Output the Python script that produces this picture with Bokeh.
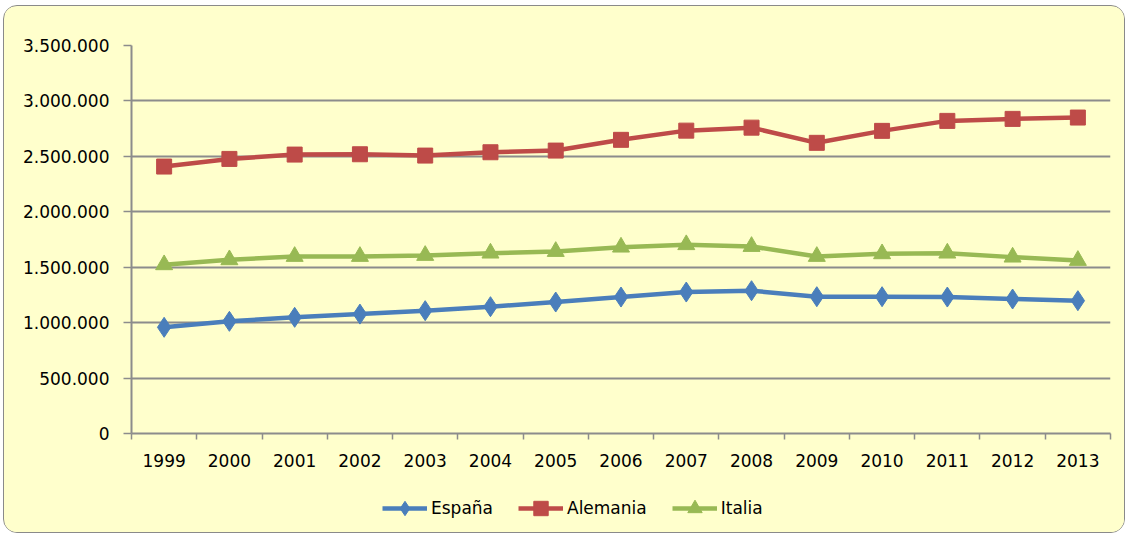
from bokeh.plotting import figure
from bokeh.layouts import column
from bokeh.models import FixedTicker, Legend, LegendItem, ColumnDataSource, Range1d
from bokeh.embed import file_html
from bokeh.resources import INLINE

years = ["1999", "2000", "2001", "2002", "2003", "2004", "2005", "2006",
         "2007", "2008", "2009", "2010", "2011", "2012", "2013"]
espana = [958000, 1012000, 1048000, 1077000, 1108000, 1144000, 1186000, 1231000,
          1276000, 1288000, 1234000, 1234000, 1231000, 1213000, 1198000]
alemania = [2408000, 2477000, 2516000, 2519000, 2507000, 2537000, 2552000, 2649000,
            2732000, 2759000, 2622000, 2730000, 2820000, 2838000, 2850000]
italia = [1522000, 1567000, 1597000, 1597000, 1606000, 1627000, 1642000, 1681000,
          1703000, 1687000, 1597000, 1621000, 1627000, 1591000, 1561000]
series_names = ["España", "Alemania", "Italia"]
y_ticks = [0, 500000, 1000000, 1500000, 2000000, 2500000, 3000000, 3500000]
y_labels = ["0", "500.000", "1.000.000", "1.500.000", "2.000.000", "2.500.000",
            "3.000.000", "3.500.000"]

BG = "#FFFFCC"
GRID = "#8C8C8C"
FONT = "DejaVu Sans"
C_ES, C_AL, C_IT = "#4A7EBB", "#BE4B48", "#98B954"

xs = list(range(len(years)))
src = ColumnDataSource(dict(x=xs, es=espana, al=alemania, it=italia))

p = figure(width=1120, height=471, output_backend="svg", toolbar_location=None,
           x_range=(-0.5, len(years) - 0.5), y_range=(0, 3500000),
           min_border_left=127, min_border_right=14, min_border_top=39,
           min_border_bottom=44)
p.background_fill_color = BG
p.border_fill_color = BG
p.outline_line_color = None

# axes
p.xaxis.ticker = FixedTicker(ticks=xs, minor_ticks=[i - 0.5 for i in range(len(years) + 1)])
p.xaxis.major_label_overrides = {i: y for i, y in enumerate(years)}
p.xaxis.major_tick_out = 0
p.xaxis.major_tick_in = 0
p.xaxis.minor_tick_out = 6
p.xaxis.minor_tick_in = 0
p.xaxis.minor_tick_line_color = GRID
p.xaxis.minor_tick_line_width = 1.5
p.xaxis.axis_line_color = GRID
p.xaxis.axis_line_width = 2
p.xaxis.major_label_standoff = 14
p.xaxis.major_label_text_font = FONT
p.xaxis.major_label_text_font_size = "17px"
p.xaxis.major_label_text_color = "#000000"

p.yaxis.ticker = FixedTicker(ticks=y_ticks, minor_ticks=[])
p.yaxis.major_label_overrides = {t: l for t, l in zip(y_ticks, y_labels)}
p.yaxis.major_tick_out = 8
p.yaxis.major_tick_in = 0
p.yaxis.major_tick_line_color = GRID
p.yaxis.major_tick_line_width = 1.5
p.yaxis.minor_tick_out = 0
p.yaxis.minor_tick_in = 0
p.yaxis.axis_line_color = GRID
p.yaxis.axis_line_width = 2
p.yaxis.major_label_standoff = 14
p.yaxis.major_label_text_font = FONT
p.yaxis.major_label_text_font_size = "17px"
p.yaxis.major_label_text_color = "#000000"

p.xgrid.grid_line_color = None
p.ygrid.grid_line_color = GRID
p.ygrid.grid_line_width = 2

# series
p.line("x", "es", source=src, line_color=C_ES, line_width=4.5)
p.scatter("x", "es", source=src, marker="diamond", size=20, fill_color=C_ES, line_color=C_ES)
p.line("x", "al", source=src, line_color=C_AL, line_width=4.5)
p.scatter("x", "al", source=src, marker="square", size=15, fill_color=C_AL, line_color=C_AL)
p.line("x", "it", source=src, line_color=C_IT, line_width=4.5)
p.scatter("x", "it", source=src, marker="triangle", size=17, fill_color=C_IT, line_color=C_IT)

# legend strip (separate figure below the chart; its sample glyphs sit outside its ranges)
lg = figure(width=1120, height=55, output_backend="svg", toolbar_location=None,
            x_axis_location=None, y_axis_location=None,
            x_range=Range1d(10, 11), y_range=Range1d(10, 11),
            min_border_left=0, min_border_right=0, min_border_top=0, min_border_bottom=0)
lg.background_fill_color = BG
lg.border_fill_color = BG
lg.outline_line_color = None
lg.xgrid.grid_line_color = None
lg.ygrid.grid_line_color = None
items = []
for name, col, mk, sz in zip(series_names, [C_ES, C_AL, C_IT],
                             ["diamond", "square", "triangle"], [20, 15, 17]):
    r1 = lg.line(x=[0, 1], y=[0, 0], line_color=col, line_width=4.5)
    r2 = lg.scatter(x=[0], y=[0], marker=mk, size=sz, fill_color=col, line_color=col)
    items.append(LegendItem(label=name, renderers=[r1, r2]))

legend = Legend(items=items, orientation="horizontal", location=(251, 6),
                glyph_width=45, glyph_height=36, label_standoff=4, spacing=25,
                padding=0, margin=0, background_fill_alpha=0, border_line_color=None,
                label_text_font=FONT, label_text_font_size="17px", label_text_color="#000000")
lg.add_layout(legend, "center")

layout = column(p, lg, spacing=0)
layout.styles = {"border": "1px solid #8a8a8a", "border-radius": "14px",
                 "overflow": "hidden", "background-color": BG,
                 "margin-left": "3px", "margin-top": "5px"}

open("out.html", "w").write(file_html(layout, INLINE))
